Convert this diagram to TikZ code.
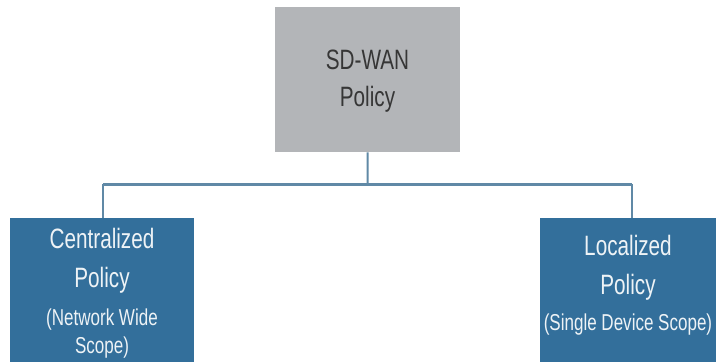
\documentclass[tikz,border=0pt]{standalone}
\usepackage{fontspec}
\setmainfont[FakeStretch=0.74]{Liberation Sans}
\definecolor{boxgray}{HTML}{B3B5B8}
\definecolor{boxblue}{HTML}{336F9B}
\definecolor{linkblue}{HTML}{6089A6}
\definecolor{darktext}{HTML}{363636}
\definecolor{lighttext}{HTML}{EEF3F6}
\tikzset{
  graybox/.style={fill=boxgray, draw=none, inner sep=0pt, anchor=north west},
  bluebox/.style={fill=boxblue, draw=none, inner sep=0pt, anchor=north west},
  bigtext/.style={font=\fontsize{28}{32}\selectfont, inner sep=0pt, anchor=base},
  smalltext/.style={font=\fontsize{23}{27}\selectfont, inner sep=0pt, anchor=base},
  link/.style={draw=linkblue, line width=2pt},
  buslink/.style={draw=linkblue, line width=3pt},
}
\begin{document}
\begin{tikzpicture}[x=1pt,y=-1pt]
\useasboundingbox (0,0) rectangle (716,362);
\fill[white] (0,0) rectangle (716,362);
% boxes
\node[graybox, minimum width=185pt, minimum height=145pt] (root) at (275,7) {};
\node[bluebox, minimum width=184pt, minimum height=144pt] (central) at (10,218) {};
\node[bluebox, minimum width=176pt, minimum height=144pt] (local) at (540,218) {};
% connectors
\coordinate (bus) at (367.5,184);
\coordinate (busL) at (103,184);
\coordinate (busR) at (632,184);
\draw[link] (root.south) -- (bus);
\draw[link] (busL) -- (busL |- central.north);
\draw[link] (busR) -- (busR |- local.north);
\draw[buslink] (busL) -- (busR);
% texts
\node[bigtext, text=darktext] (rootA) at (367.5,69) {SD-WAN};
\node[bigtext, text=darktext] (rootB) at (367.5,106) {Policy};
\node[bigtext, text=lighttext] (centralA) at (102,248) {Centralized};
\node[bigtext, text=lighttext] (centralB) at (102,287) {Policy};
\node[smalltext, text=lighttext] (centralC) at (102,325) {(Network Wide};
\node[smalltext, text=lighttext] (centralD) at (102,353) {Scope)};
\node[bigtext, text=lighttext] (localA) at (628,255) {Localized};
\node[bigtext, text=lighttext] (localB) at (628,294) {Policy};
\node[smalltext, font=\fontsize{23}{27}\selectfont, text=lighttext] (localC) at (628,330) {(Single Device Scope)};
\end{tikzpicture}
\end{document}
